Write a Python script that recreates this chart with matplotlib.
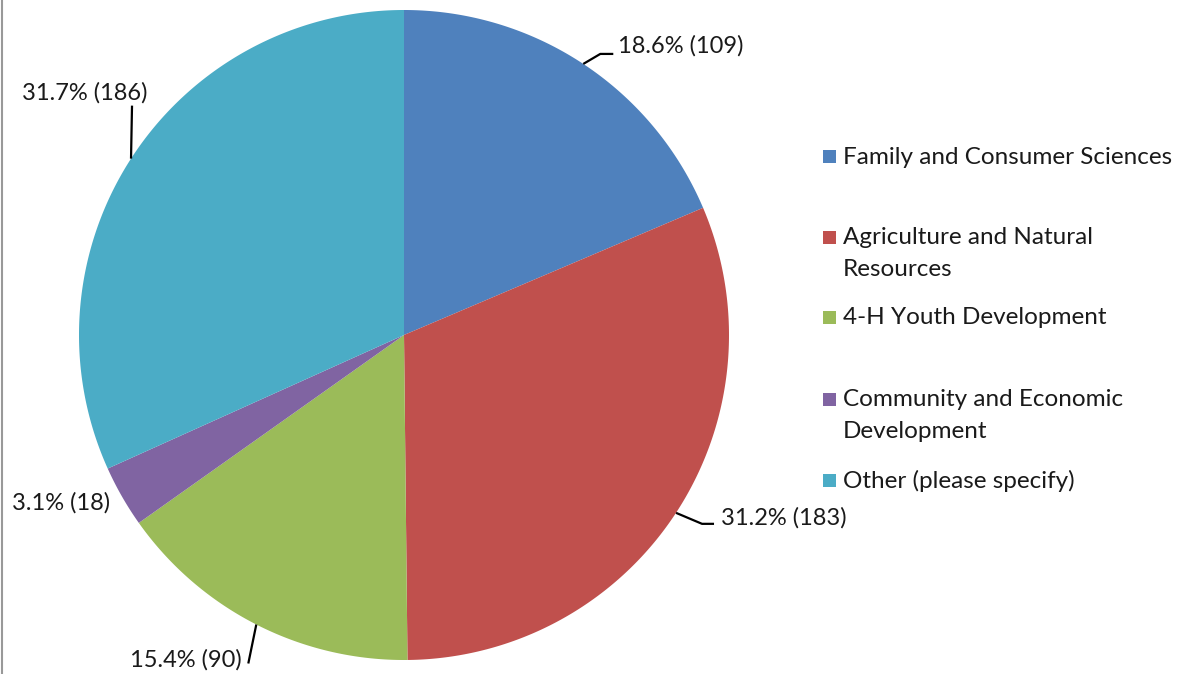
import numpy as np
import matplotlib
matplotlib.use("Agg")
import matplotlib.pyplot as plt
from matplotlib.patches import Rectangle

# Data
categories = ['Family and Consumer Sciences', 'Agriculture and Natural\nResources',
              '4-H Youth Development', 'Community and Economic\nDevelopment',
              'Other (please specify)']
counts = [109, 183, 90, 18, 186]
colors = ['#4F81BD', '#C0504D', '#9BBB59', '#8064A2', '#4BACC6']

plt.rcParams['font.family'] = ['Lato', 'DejaVu Sans']

W, H = 1186, 674
fig = plt.figure(figsize=(W / 100, H / 100), dpi=100)
ax = fig.add_axes([0, 0, 1, 1])
ax.set_xlim(0, W)
ax.set_ylim(H, 0)  # pixel-like coords, y down
ax.set_aspect('equal')
ax.axis('off')

cx, cy, r = 404, 335, 325

# slices, clockwise from 12 o'clock
total = sum(counts)
start = 0.0
for val, col in zip(counts, colors):
    frac = val / total
    t = np.linspace(start, start + frac, 200) * 2 * np.pi
    xs = np.concatenate([[cx], cx + r * np.sin(t), [cx]])
    ys = np.concatenate([[cy], cy - r * np.cos(t), [cy]])
    ax.fill(xs, ys, color=col, linewidth=0)
    start += frac

# data labels with leader lines
# elbow offset, end offset, text offset, ha
label_layout = [
    [(17, -10), (30, -10), (35, -18), 'left'],
    [(26, 11), (38, 11), (45, 5), 'left'],
    [(-8, 39), (-8, 39), (-15, 35), 'right'],
    [(0, 0), (0, 0), (-12, 6), 'right'],
    [(1, -53), (1, -53), (16, -66), 'right'],
]
start = 0.0
for val, lay in zip(counts, label_layout):
    frac = val / total
    mid = (start + frac / 2) * 2 * np.pi
    start += frac
    px, py = cx + r * np.sin(mid), cy - r * np.cos(mid)
    (e1x, e1y), (e2x, e2y), (tx, ty), ha = lay
    if (e1x, e1y) != (0, 0):
        ax.plot([px, px + e1x, px + e2x], [py, py + e1y, py + e2y],
                color='black', lw=1.6, solid_capstyle='butt')
    ax.text(px + tx, py + ty, f'{val / total * 100:.1f}% ({val})',
            ha=ha, va='center', fontsize=17, color='#1a1a1a')

# legend
leg_y = [157, 238, 318, 400, 481]
for lab, col, y in zip(categories, colors, leg_y):
    ax.add_patch(Rectangle((823, y - 7), 13, 13, color=col, lw=0))
    for i, ln in enumerate(lab.split('\n')):
        ax.text(843, y + i * 31, ln, ha='left', va='center', fontsize=17.5,
                color='#1a1a1a')

# left border line
fig.add_artist(plt.Line2D([1.5 / W, 1.5 / W], [0, 1], color='#999999', lw=1.5))

fig.savefig('out.png', dpi=100)
